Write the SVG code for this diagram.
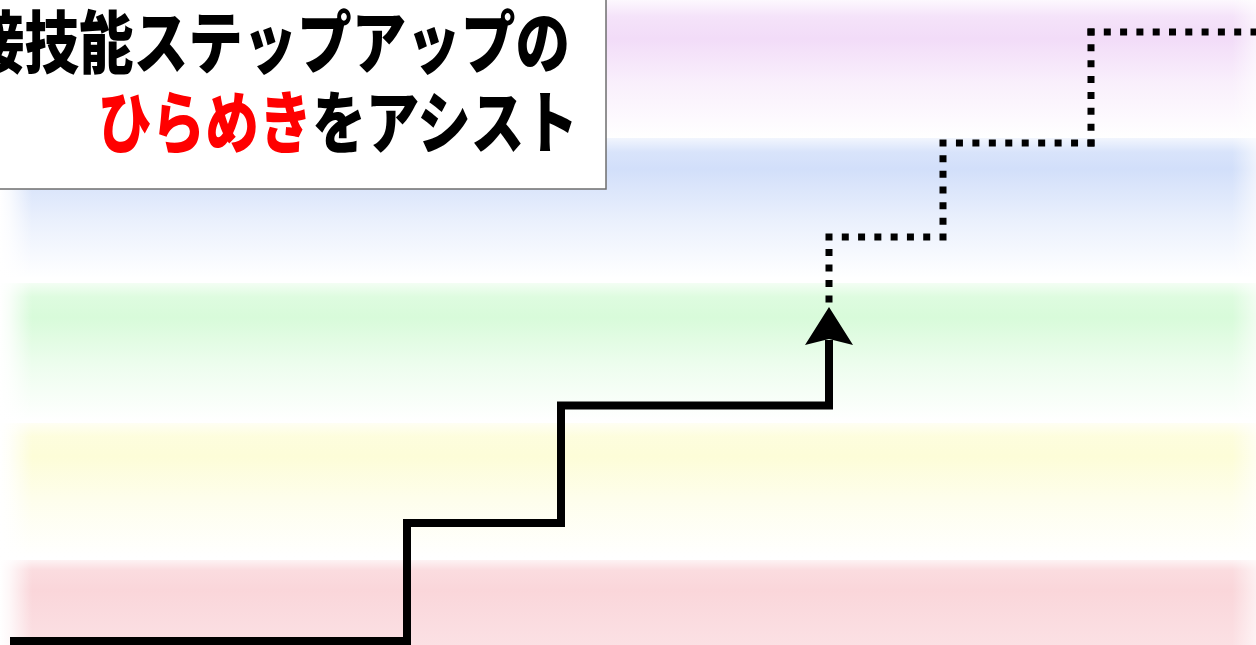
<svg xmlns="http://www.w3.org/2000/svg" width="1256" height="645" viewBox="0 0 1256 645">
<style>
.t{font-family:"Noto Sans CJK JP","Noto Sans CJK SC",sans-serif;font-weight:900;font-size:68px;fill:#000}
.r{fill:#ff0000}
.solid{fill:none;stroke:#000;stroke-width:8;stroke-linejoin:miter;stroke-linecap:butt}
.dot{fill:none;stroke:#000;stroke-width:7;stroke-linecap:square}
</style>
<defs>
<linearGradient id="gP" x1="0" y1="0" x2="0" y2="1"><stop offset="0" stop-color="#f2dcf8" stop-opacity="0.2"/><stop offset="0.12" stop-color="#f2dcf8" stop-opacity="0.8"/><stop offset="0.28" stop-color="#f2dcf8"/><stop offset="0.6" stop-color="#f2dcf8" stop-opacity="0.45"/><stop offset="1" stop-color="#f2dcf8" stop-opacity="0"/></linearGradient>
<linearGradient id="gB" x1="0" y1="0" x2="0" y2="1"><stop offset="0" stop-color="#d2dffa" stop-opacity="0.3"/><stop offset="0.1" stop-color="#d2dffa" stop-opacity="0.85"/><stop offset="0.22" stop-color="#d2dffa"/><stop offset="0.6" stop-color="#d2dffa" stop-opacity="0.45"/><stop offset="1" stop-color="#d2dffa" stop-opacity="0"/></linearGradient>
<linearGradient id="gG" x1="0" y1="0" x2="0" y2="1"><stop offset="0" stop-color="#d8fbda" stop-opacity="0.3"/><stop offset="0.1" stop-color="#d8fbda" stop-opacity="0.85"/><stop offset="0.25" stop-color="#d8fbda"/><stop offset="0.6" stop-color="#d8fbda" stop-opacity="0.45"/><stop offset="1" stop-color="#d8fbda" stop-opacity="0"/></linearGradient>
<linearGradient id="gY" x1="0" y1="0" x2="0" y2="1"><stop offset="0" stop-color="#fdfdd8" stop-opacity="0.3"/><stop offset="0.1" stop-color="#fdfdd8" stop-opacity="0.85"/><stop offset="0.25" stop-color="#fdfdd8"/><stop offset="0.6" stop-color="#fdfdd8" stop-opacity="0.45"/><stop offset="1" stop-color="#fdfdd8" stop-opacity="0"/></linearGradient>
<linearGradient id="gR" x1="0" y1="0" x2="0" y2="1"><stop offset="0" stop-color="#fad6da" stop-opacity="0.3"/><stop offset="0.12" stop-color="#fad6da" stop-opacity="0.85"/><stop offset="0.35" stop-color="#fad6da"/><stop offset="1" stop-color="#fbdde1" stop-opacity="0.9"/></linearGradient>
<linearGradient id="gL" x1="0" y1="0" x2="1" y2="0"><stop offset="0" stop-color="#fff"/><stop offset="0.3" stop-color="#fff" stop-opacity="0.8"/><stop offset="1" stop-color="#fff" stop-opacity="0"/></linearGradient>
<linearGradient id="gRt" x1="1" y1="0" x2="0" y2="0"><stop offset="0" stop-color="#fff" stop-opacity="0.6"/><stop offset="1" stop-color="#fff" stop-opacity="0"/></linearGradient>
</defs>
<g id="background">
<rect x="0" y="0" width="1256" height="645" fill="#fff"/>
<rect x="0" y="0" width="1256" height="138" fill="url(#gP)"/>
<rect x="0" y="138" width="1256" height="140" fill="url(#gB)"/>
<rect x="0" y="283" width="1256" height="138" fill="url(#gG)"/>
<rect x="0" y="423" width="1256" height="134" fill="url(#gY)"/>
<rect x="0" y="560" width="1256" height="85" fill="url(#gR)"/>
<rect x="0" y="0" width="32" height="645" fill="url(#gL)"/>
<rect x="1232" y="0" width="24" height="645" fill="url(#gRt)"/>
</g>
<g id="connectors">
<path class="solid" d="M10,641 H407 V523 H561 V405.5 H829 V340"/>
<polygon points="829,307 853,345 829,339 805,345" fill="#000"/>
<path class="dot" d="M829,299 V237" stroke-dasharray="0 15.5"/>
<path class="dot" d="M829,237 H943" stroke-dasharray="0 16.286"/>
<path class="dot" d="M943,237 V143" stroke-dasharray="0 15.667"/>
<path class="dot" d="M943,143 H1091" stroke-dasharray="0 16.444"/>
<path class="dot" d="M1091,143 V32" stroke-dasharray="0 15.857"/>
<path class="dot" d="M1091,32 H1262" stroke-dasharray="0 16.3"/>
</g>
<g id="title">
<rect x="-2" y="-2" width="608" height="191" fill="#fff" stroke="#6e6e6e" stroke-width="1.5"/>
<text class="t" x="-30" y="68" textLength="600" lengthAdjust="spacingAndGlyphs">接技能ステップアップの</text>
<text class="t" x="98" y="148" textLength="480" lengthAdjust="spacingAndGlyphs"><tspan class="r">ひらめき</tspan>をアシスト</text>
</g>
</svg>
